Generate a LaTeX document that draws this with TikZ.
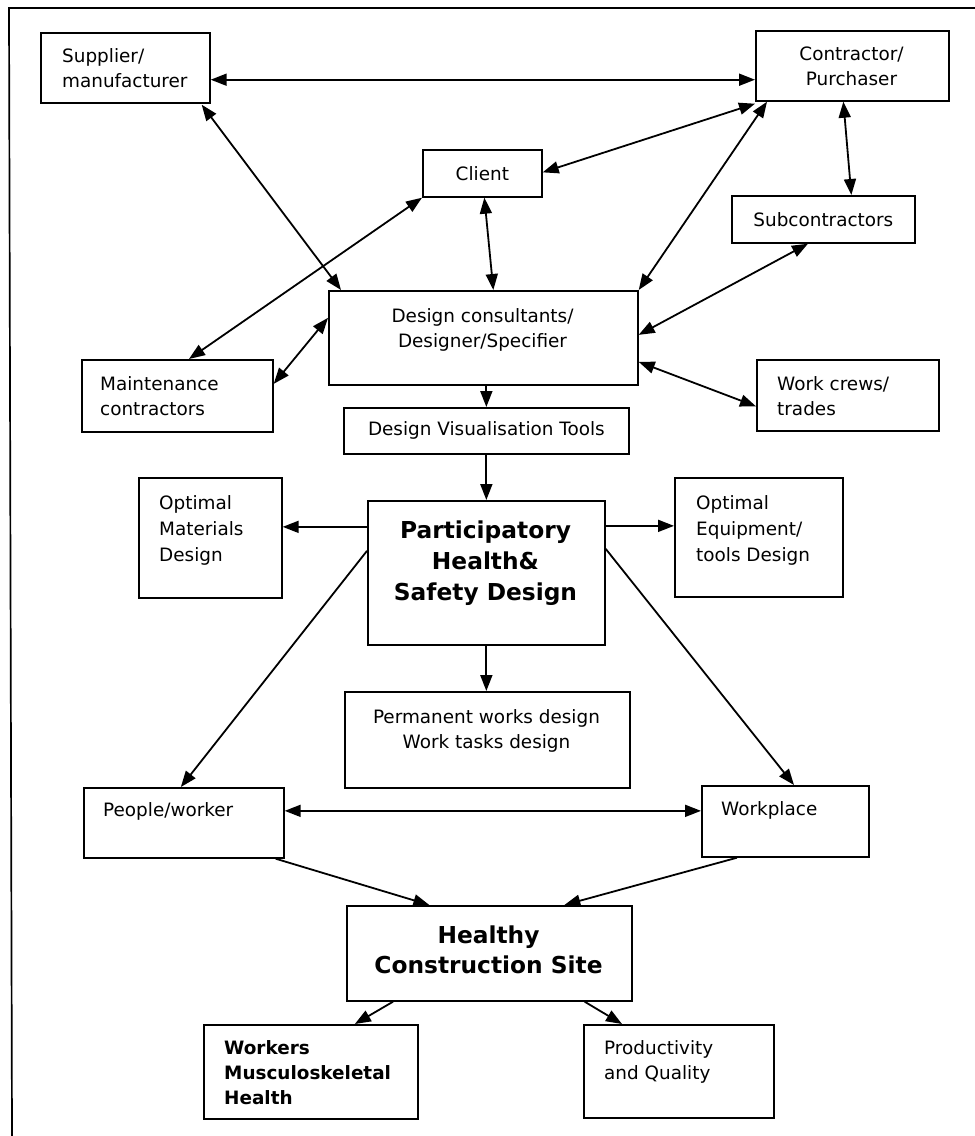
\documentclass[tikz,border=0pt]{standalone}
\usepackage{fontspec}
\setmainfont{DejaVu Sans}
\usetikzlibrary{arrows.meta,calc}
\begin{document}
\begin{tikzpicture}[x=1pt,y=-1pt,
  box/.style={draw, line width=1.7pt, inner sep=0pt, anchor=north west},
  txt/.style={inner sep=0pt, font=\fontsize{18.4}{25}\selectfont, align=left, anchor=north west},
  ctxt/.style={inner sep=0pt, font=\fontsize{18.4}{25}\selectfont, align=center, anchor=north},
  big/.style={inner sep=0pt, font=\bfseries\fontsize{23.3}{31}\selectfont, align=center, anchor=north},
  conn/.style={line width=1.8pt, >={Triangle[length=16pt,width=12pt]}},
]
\useasboundingbox (0,0) rectangle (975,1136);
% frame (only top and left edges visible)
\draw[line width=1.7pt] (975,8) -- (9,8) -- (12,1136);

% boxes
\node[box, minimum width=169pt, minimum height=70pt] (sup) at (40,32) {};
\node[box, minimum width=193pt, minimum height=70pt] (con) at (755,30) {};
\node[box, minimum width=119pt, minimum height=47pt, font=\fontsize{18.4}{25}\selectfont] (cli) at (422,149) {Client};
\node[box, minimum width=183pt, minimum height=47pt, font=\fontsize{18.4}{25}\selectfont] (sub) at (731,195) {Subcontractors};
\node[box, minimum width=309pt, minimum height=94pt] (des) at (328,290) {};
\node[box, minimum width=191pt, minimum height=72pt] (mai) at (81,359) {};
\node[box, minimum width=285pt, minimum height=46pt, font=\fontsize{18.4}{25}\selectfont] (dvt) at (343,407) {Design Visualisation Tools};
\node[box, minimum width=182pt, minimum height=71pt] (wor) at (756,359) {};
\node[box, minimum width=143pt, minimum height=120pt] (oma) at (138,477) {};
\node[box, minimum width=237pt, minimum height=144pt] (par) at (367,500) {};
\node[box, minimum width=168pt, minimum height=119pt] (oeq) at (674,477) {};
\node[box, minimum width=285pt, minimum height=96pt] (per) at (344,691) {};
\node[box, minimum width=200pt, minimum height=70pt] (peo) at (83,787) {};
\node[box, minimum width=167pt, minimum height=71pt] (wpl) at (701,785) {};
\node[box, minimum width=285pt, minimum height=95pt] (hea) at (346,905) {};
\node[box, minimum width=214pt, minimum height=94pt] (wms) at (203,1024) {};
\node[box, minimum width=190pt, minimum height=93pt] (pro) at (583,1024) {};

% texts
\node[txt] (sup-t) at (62,48) {Supplier/\\manufacturer};
\node[ctxt] (con-t) at (851.5,47) {Contractor/\\Purchaser};
\node[ctxt] (des-t) at (482.5,308) {Design consultants/\\Designer/Specifier};
\node[txt] (mai-t) at (100,376) {Maintenance\\contractors};
\node[txt] (wor-t) at (777,376) {Work crews/\\trades};
\node[txt, font=\fontsize{18.4}{26}\selectfont] (oma-t) at (159,495) {Optimal\\Materials\\Design};
\node[big] (par-t) at (485.5,521) {Participatory\\Health\&\\Safety Design};
\node[txt, font=\fontsize{18.4}{26}\selectfont] (oeq-t) at (696,495) {Optimal\\Equipment/\\tools Design};
\node[ctxt] (per-t) at (486.5,709) {Permanent works design\\Work tasks design};
\node[txt] (peo-t) at (103,802) {People/worker};
\node[txt] (wpl-t) at (721,801) {Workplace};
\node[big, font=\bfseries\fontsize{23.3}{30}\selectfont] (hea-t) at (488.5,926) {Healthy\\Construction Site};
\node[txt, font=\bfseries\fontsize{18.4}{25}\selectfont] (wms-t) at (224,1040) {Workers\\Musculoskeletal\\Health};
\node[txt] (pro-t) at (604,1040) {Productivity\\and Quality};

% connectors
\draw[conn,<->] ($(sup.south east)+(0,-24)$) -- ($(con.south west)+(0,-22)$);
\draw[conn,<->] ($(sup.south east)+(-9,1)$) -- ($(des.north west)+(13,0)$);
\draw[conn,<->] (cli.south west) -- ($(mai.north west)+(108,0)$);
\draw[conn,<->] ($(cli.east)+(0,-1)$) -- ($(con.south west)+(0,2)$);
\draw[conn,<->] ($(cli.south)+(2,0)$) -- ($(des.north)+(10,0)$);
\draw[conn,<->] ($(con.south west)+(12,0)$) -- (des.north east);
\draw[conn,<->] ($(con.south)+(-9,0)$) -- ($(sub.north)+(28,0)$);
\draw[conn,<->] ($(sub.south west)+(77,0)$) -- ($(des.east)+(0,-3)$);
\draw[conn,<->] ($(mai.east)+(0,-12)$) -- ($(des.west)+(0,-20)$);
\draw[conn,<->] ($(des.east)+(0,24)$) -- ($(wor.west)+(0,11)$);
\draw[conn,->] ($(des.south)+(3,0)$) -- (dvt.north);
\draw[conn,->] (dvt.south) -- (par.north);
\draw[conn,->] ($(par.west)+(0,-46)$) -- ($(oma.east)+(0,-11)$);
\draw[conn,->] ($(par.east)+(0,-47)$) -- ($(oeq.west)+(0,-11.5)$);
\draw[conn,->] (par.south) -- ($(per.north)+(-1,0)$);
\draw[conn,->] ($(par.west)+(0,-22)$) -- ($(peo.north)+(-3,0)$);
\draw[conn,->] ($(par.east)+(0,-24)$) -- ($(wpl.north west)+(93,0)$);
\draw[conn,<->] ($(peo.east)+(0,-12)$) -- ($(wpl.west)+(0,-10.5)$);
\draw[conn,->] ($(peo.south east)+(-9,0)$) -- ($(hea.north)+(-60,0)$);
\draw[conn,->] ($(wpl.south west)+(36,0)$) -- ($(hea.north)+(75,0)$);
\draw[conn,->] ($(hea.south west)+(47,0)$) -- ($(wms.north)+(44,0)$);
\draw[conn,->] ($(hea.south east)+(-48,0)$) -- ($(pro.north west)+(39,0)$);
\end{tikzpicture}
\end{document}
